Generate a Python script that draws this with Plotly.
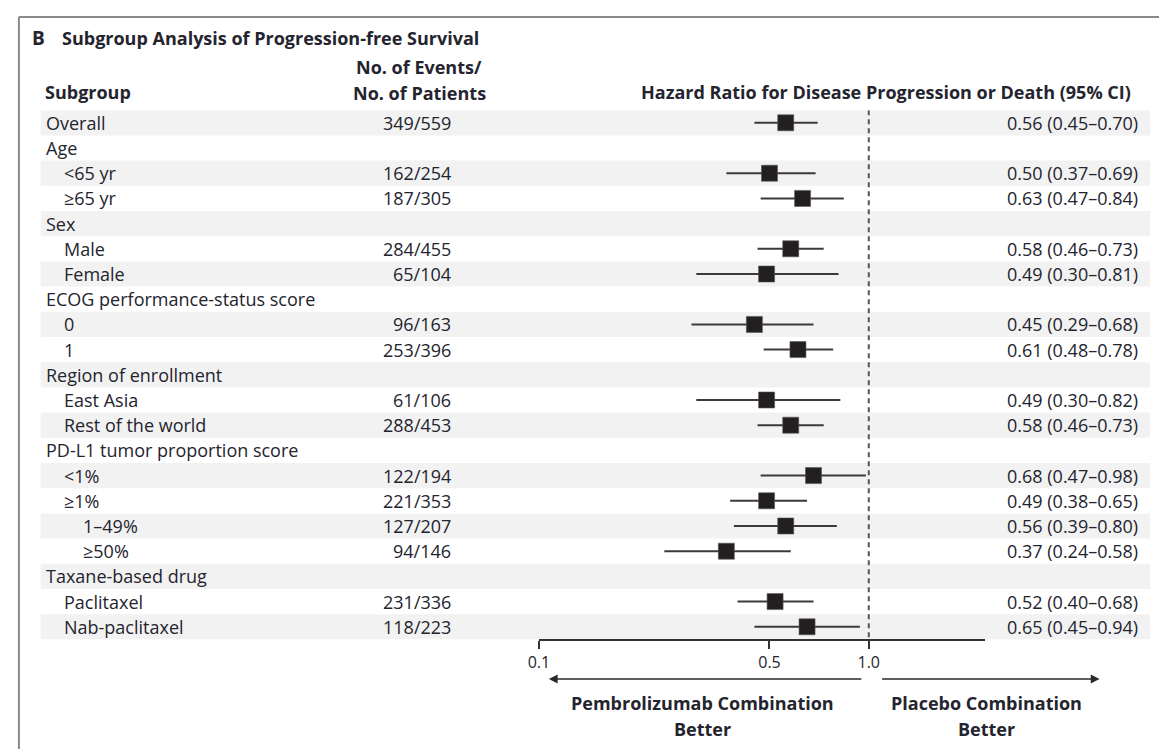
import plotly.graph_objects as go

# ---------------- data ----------------
labels = ["Overall", "Age", "<65 yr", "≥65 yr", "Sex", "Male", "Female",
          "ECOG performance-status score", "0", "1", "Region of enrollment",
          "East Asia", "Rest of the world", "PD-L1 tumor proportion score",
          "<1%", "≥1%", "1–49%", "≥50%", "Taxane-based drug",
          "Paclitaxel", "Nab-paclitaxel"]
indent = [0, 0, 1, 1, 0, 1, 1, 0, 1, 1, 0, 1, 1, 0, 1, 1, 2, 2, 0, 1, 1]
events = ["349/559", "", "162/254", "187/305", "", "284/455", "65/104", "",
          "96/163", "253/396", "", "61/106", "288/453", "", "122/194",
          "221/353", "127/207", "94/146", "", "231/336", "118/223"]
hr = [0.56, None, 0.50, 0.63, None, 0.58, 0.49, None, 0.45, 0.61, None,
      0.49, 0.58, None, 0.68, 0.49, 0.56, 0.37, None, 0.52, 0.65]
lo = [0.45, None, 0.37, 0.47, None, 0.46, 0.30, None, 0.29, 0.48, None,
      0.30, 0.46, None, 0.47, 0.38, 0.39, 0.24, None, 0.40, 0.45]
hi = [0.70, None, 0.69, 0.84, None, 0.73, 0.81, None, 0.68, 0.78, None,
      0.82, 0.73, None, 0.98, 0.65, 0.80, 0.58, None, 0.68, 0.94]
tick_vals = [0.1, 0.5, 1.0]
tick_text = ["0.1", "0.5", "1.0"]

# ---------------- layout constants ----------------
W, H = 1159, 749
FONT = "Open Sans"
TXT = "#24242e"
FS = 18
n = len(labels)
row_top_px, row_bot_px = 110.2, 639.4


def px(x):
    return x / W


def py(y):
    return 1 - y / H


fig = go.Figure()

rows = [i for i in range(n) if hr[i] is not None]
fig.add_trace(go.Scatter(
    x=[hr[i] for i in rows], y=rows, mode="markers",
    marker=dict(symbol="square", size=16, color="#231f20",
                line=dict(width=0.6, color="#555")),
    error_x=dict(type="data", symmetric=False,
                 array=[hi[i] - hr[i] for i in rows],
                 arrayminus=[hr[i] - lo[i] for i in rows],
                 color="#3a3a3a", thickness=2, width=0),
    showlegend=False, hoverinfo="skip"))

fig.add_trace(go.Scatter(
    x=[1, 1], y=[-0.5, n - 0.5], mode="lines",
    line=dict(color="#555", width=2, dash="5px,4px"),
    showlegend=False, hoverinfo="skip"))

shapes = []
for i in range(n):
    if i % 2 == 0:
        shapes.append(dict(type="rect", xref="paper", yref="y",
                           x0=px(30), x1=px(1150), y0=i - 0.5, y1=i + 0.5,
                           fillcolor="#f2f2f2", line=dict(width=0),
                           layer="below"))
shapes.append(dict(type="line", xref="paper", yref="paper",
                   x0=px(8), x1=1, y0=py(17), y1=py(17),
                   line=dict(color="#8a8a8a", width=2)))
shapes.append(dict(type="line", xref="paper", yref="paper",
                   x0=px(8), x1=px(8), y0=py(17), y1=0,
                   line=dict(color="#8a8a8a", width=2)))

ann = []
indent_px = [33, 51, 71]
for i in range(n):
    ann.append(dict(xref="paper", yref="y", x=px(indent_px[indent[i]]), y=i,
                    text=labels[i], showarrow=False, xanchor="left",
                    yanchor="middle", font=dict(family=FONT, size=FS, color=TXT)))
    if events[i]:
        ann.append(dict(xref="paper", yref="y", x=px(446), y=i,
                        text=events[i], showarrow=False, xanchor="right",
                        yanchor="middle", font=dict(family=FONT, size=FS, color=TXT)))
    if hr[i] is not None:
        ann.append(dict(xref="paper", yref="y", x=px(1140), y=i,
                        text=f"{hr[i]:.2f} ({lo[i]:.2f}–{hi[i]:.2f})",
                        showarrow=False, xanchor="right", yanchor="middle",
                        font=dict(family=FONT, size=FS, color=TXT)))


def txt(x, y, s, anchor="left", size=FS, vanchor="middle"):
    ann.append(dict(xref="paper", yref="paper", x=px(x), y=py(y),
                    text=f"<b>{s}</b>", showarrow=False, xanchor=anchor,
                    yanchor=vanchor, borderpad=0,
                    font=dict(family=FONT, size=size, color=TXT)))


txt(20, 38, "B", size=FS + 1)
txt(50, 38, "Subgroup Analysis of Progression-free Survival")
txt(33, 92, "Subgroup")
txt(412, 80.5, "No. of Events/", "center", vanchor="bottom")
txt(412, 80.5, "No. of Patients", "center", vanchor="top")
txt(1132, 92, "Hazard Ratio for Disease Progression or Death (95% CI)", "right")
txt(698, 715.5, "Pembrolizumab Combination", "center", vanchor="bottom")
txt(698, 715.5, "Better", "center", vanchor="top")
txt(985, 715.5, "Placebo Combination", "center", vanchor="bottom")
txt(985, 715.5, "Better", "center", vanchor="top")

ann.append(dict(xref="paper", yref="paper", x=px(543), y=py(679), text="",
                showarrow=True, ax=857 - 543, ay=0, arrowhead=2, arrowsize=1.1,
                arrowwidth=1.6, arrowcolor="#2a2a2a"))
ann.append(dict(xref="paper", yref="paper", x=px(1099), y=py(679), text="",
                showarrow=True, ax=880 - 1099, ay=0, arrowhead=2, arrowsize=1.1,
                arrowwidth=1.6, arrowcolor="#2a2a2a"))

fig.update_layout(
    width=W, height=H, margin=dict(l=0, r=0, t=0, b=0),
    paper_bgcolor="white", plot_bgcolor="rgba(0,0,0,0)",
    shapes=shapes, annotations=ann,
    xaxis=dict(type="log", range=[-1, 0.3514], domain=[px(533), px(983)],
               showline=True, linecolor="#333", linewidth=1.6,
               ticks="outside", ticklen=8, tickwidth=1.6, tickcolor="#333",
               tickvals=tick_vals, ticktext=tick_text, showgrid=False,
               zeroline=False, tickfont=dict(family=FONT, size=16, color=TXT)),
    yaxis=dict(range=[n - 0.5, -0.5], domain=[py(row_bot_px), py(row_top_px)],
               visible=False, showgrid=False, zeroline=False),
)

fig.write_html("out.html")
